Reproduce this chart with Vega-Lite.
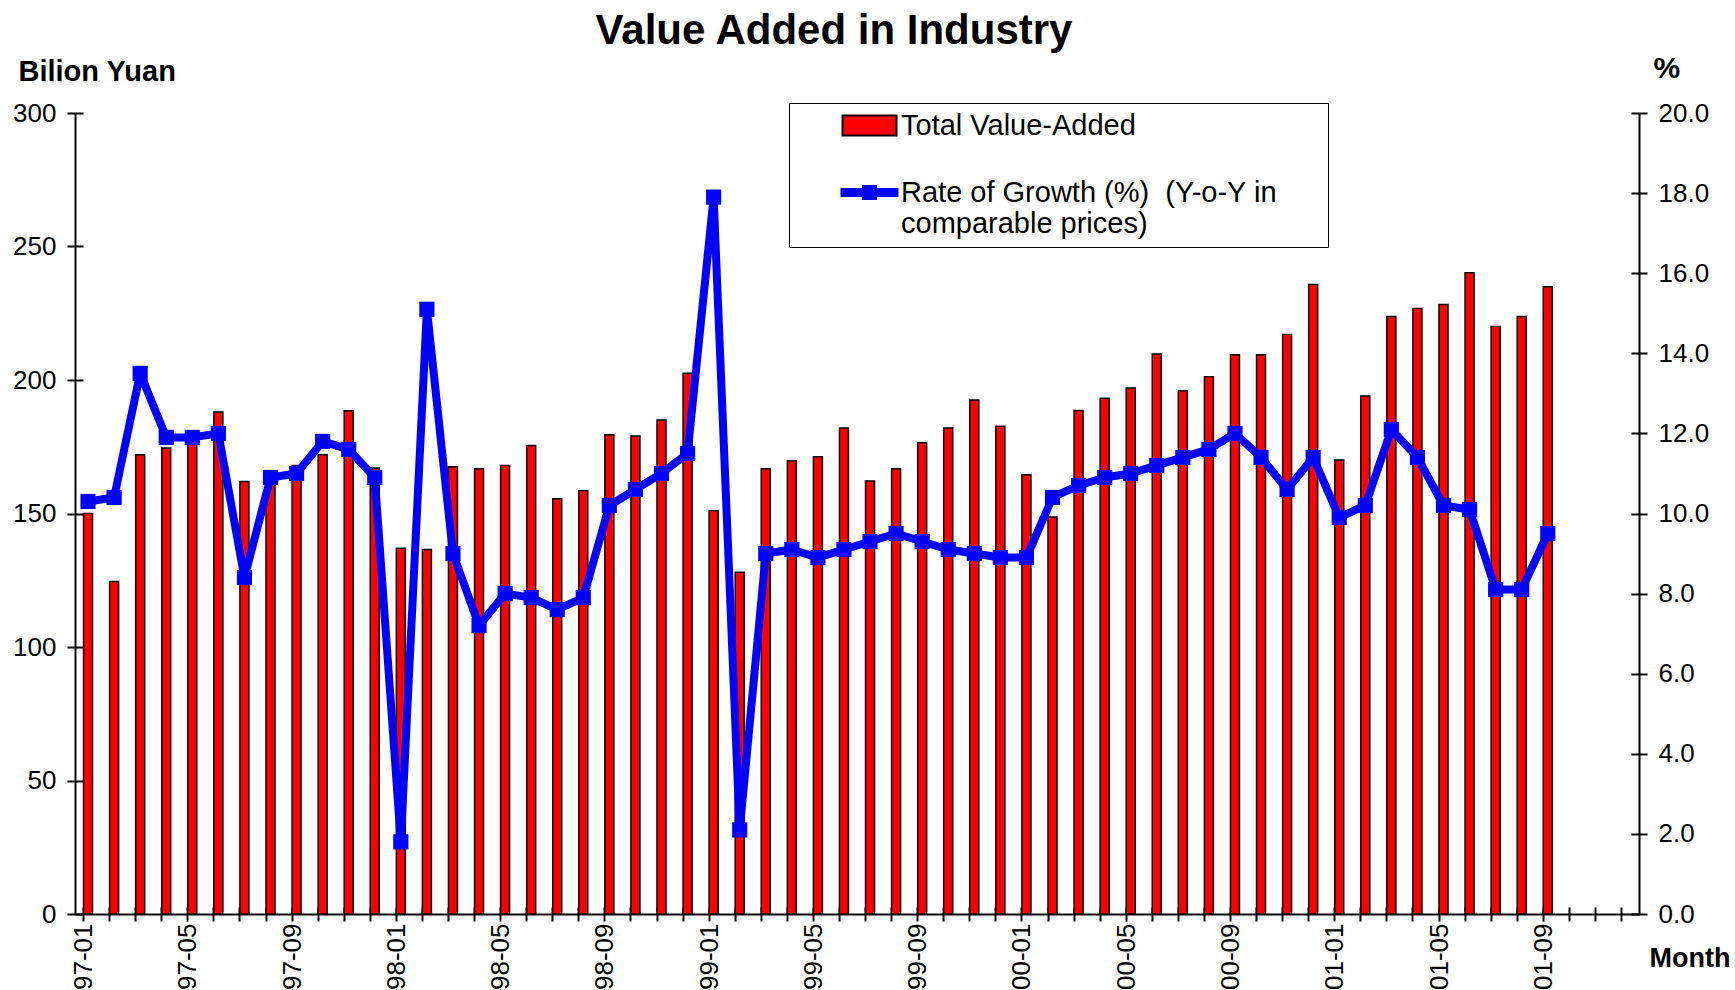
{
  "$schema": "https://vega.github.io/schema/vega-lite/v6.json",
  "width": 1564,
  "height": 801,
  "autosize": {"type": "none"},
  "padding": {"left": 75, "top": 113, "right": 96, "bottom": 76},
  "background": "white",
  "title": {"text": "Value Added in Industry", "font": "Liberation Sans", "fontSize": 42, "fontWeight": "bold", "color": "black", "anchor": "middle", "dx": -23, "offset": 0},
  "config": {
    "view": {"stroke": null},
    "font": "Liberation Sans",
    "axis": {"domainColor": "black", "tickColor": "black", "labelColor": "black", "titleColor": "black", "domainWidth": 2, "tickWidth": 2, "grid": false, "labelFont": "Liberation Sans", "titleFont": "Liberation Sans"}
  },
  "data": {"values": [
    {"m": "97-01", "v": 150, "g": 10.3},
    {"m": "97-02", "v": 124.5, "g": 10.4},
    {"m": "97-03", "v": 172, "g": 13.5},
    {"m": "97-04", "v": 174.5, "g": 11.9},
    {"m": "97-05", "v": 178, "g": 11.9},
    {"m": "97-06", "v": 188, "g": 12.0},
    {"m": "97-07", "v": 162, "g": 8.4},
    {"m": "97-08", "v": 163, "g": 10.9},
    {"m": "97-09", "v": 168, "g": 11.0},
    {"m": "97-10", "v": 172, "g": 11.8},
    {"m": "97-11", "v": 188.5, "g": 11.6},
    {"m": "97-12", "v": 167, "g": 10.9},
    {"m": "98-01", "v": 137, "g": 1.8},
    {"m": "98-02", "v": 136.5, "g": 15.1},
    {"m": "98-03", "v": 167.5, "g": 9.0},
    {"m": "98-04", "v": 166.8, "g": 7.2},
    {"m": "98-05", "v": 168, "g": 8.0},
    {"m": "98-06", "v": 175.5, "g": 7.9},
    {"m": "98-07", "v": 155.5, "g": 7.6},
    {"m": "98-08", "v": 158.5, "g": 7.9},
    {"m": "98-09", "v": 179.5, "g": 10.2},
    {"m": "98-10", "v": 179, "g": 10.6},
    {"m": "98-11", "v": 185, "g": 11.0},
    {"m": "98-12", "v": 202.5, "g": 11.5},
    {"m": "99-01", "v": 151, "g": 17.9},
    {"m": "99-02", "v": 128, "g": 2.1},
    {"m": "99-03", "v": 166.8, "g": 9.0},
    {"m": "99-04", "v": 169.8, "g": 9.1},
    {"m": "99-05", "v": 171.3, "g": 8.9},
    {"m": "99-06", "v": 182, "g": 9.1},
    {"m": "99-07", "v": 162.2, "g": 9.3},
    {"m": "99-08", "v": 166.8, "g": 9.5},
    {"m": "99-09", "v": 176.5, "g": 9.3},
    {"m": "99-10", "v": 182, "g": 9.1},
    {"m": "99-11", "v": 192.5, "g": 9.0},
    {"m": "99-12", "v": 182.7, "g": 8.9},
    {"m": "00-01", "v": 164.5, "g": 8.9},
    {"m": "00-02", "v": 148.7, "g": 10.4},
    {"m": "00-03", "v": 188.6, "g": 10.7},
    {"m": "00-04", "v": 193.2, "g": 10.9},
    {"m": "00-05", "v": 197, "g": 11.0},
    {"m": "00-06", "v": 209.7, "g": 11.2},
    {"m": "00-07", "v": 196, "g": 11.4},
    {"m": "00-08", "v": 201.2, "g": 11.6},
    {"m": "00-09", "v": 209.5, "g": 12.0},
    {"m": "00-10", "v": 209.5, "g": 11.4},
    {"m": "00-11", "v": 217, "g": 10.6},
    {"m": "00-12", "v": 235.8, "g": 11.4},
    {"m": "01-01", "v": 170, "g": 9.9},
    {"m": "01-02", "v": 194, "g": 10.2},
    {"m": "01-03", "v": 223.8, "g": 12.1},
    {"m": "01-04", "v": 226.8, "g": 11.4},
    {"m": "01-05", "v": 228.3, "g": 10.2},
    {"m": "01-06", "v": 240.2, "g": 10.1},
    {"m": "01-07", "v": 220, "g": 8.1},
    {"m": "01-08", "v": 223.8, "g": 8.1},
    {"m": "01-09", "v": 234.9, "g": 9.5}
  ]},
  "layer": [
    {
      "mark": {"type": "bar", "color": "#FF0000", "stroke": "black", "strokeWidth": 1.5},
      "encoding": {
        "x": {
          "field": "m", "type": "nominal", "sort": null,
          "scale": {
            "domain": ["97-01","97-02","97-03","97-04","97-05","97-06","97-07","97-08","97-09","97-10","97-11","97-12",
                       "98-01","98-02","98-03","98-04","98-05","98-06","98-07","98-08","98-09","98-10","98-11","98-12",
                       "99-01","99-02","99-03","99-04","99-05","99-06","99-07","99-08","99-09","99-10","99-11","99-12",
                       "00-01","00-02","00-03","00-04","00-05","00-06","00-07","00-08","00-09","00-10","00-11","00-12",
                       "01-01","01-02","01-03","01-04","01-05","01-06","01-07","01-08","01-09","01-10","01-11","01-12"],
            "paddingInner": 0.655, "paddingOuter": 0.3275
          },
          "axis": {
            "orient": "bottom", "bandPosition": 0, "tickSize": 7, "labelAngle": -90, "labelFontSize": 26,
            "labelPadding": 2, "labelOverlap": false, "labelOffset": -4,
            "labelExpr": "indexof(['01','05','09'], substring(datum.value, 3, 5)) >= 0 ? datum.value : ''",
            "title": "Month", "titleAngle": 0, "titleAlign": "left", "titleBaseline": "alphabetic",
            "titleX": 1574, "titleY": 52, "titleFontSize": 27, "titleFontWeight": "bold"
          }
        },
        "y": {
          "field": "v", "type": "quantitative",
          "scale": {"domain": [0, 300], "nice": false},
          "axis": {
            "orient": "left", "values": [0, 50, 100, 150, 200, 250, 300], "tickSize": 8, "labelFontSize": 26, "labelPadding": 11,
            "title": "Bilion Yuan", "titleAngle": 0, "titleAlign": "left", "titleBaseline": "alphabetic",
            "titleX": -57, "titleY": -33, "titleFontSize": 29, "titleFontWeight": "bold"
          }
        }
      }
    },
    {
      "mark": {"type": "line", "color": "#0000FF", "strokeWidth": 8, "strokeJoin": "round", "point": {"shape": "square", "size": 230, "filled": true, "opacity": 1, "color": "#0000FF"}},
      "encoding": {
        "x": {"field": "m", "type": "nominal", "sort": null, "axis": null},
        "y": {
          "field": "g", "type": "quantitative",
          "scale": {"domain": [0, 20], "nice": false},
          "axis": {
            "orient": "right", "values": [0, 2, 4, 6, 8, 10, 12, 14, 16, 18, 20], "format": ".1f", "tickSize": 8, "labelFontSize": 26, "labelPadding": 11,
            "title": "%", "titleAngle": 0, "titleAlign": "left", "titleBaseline": "alphabetic",
            "titleX": 14, "titleY": -36, "titleFontSize": 30, "titleFontWeight": "bold"
          }
        }
      }
    },
    {
      "mark": {"type": "point", "opacity": 0, "filled": true},
      "encoding": {
        "x": {"field": "m", "type": "nominal", "sort": null,
          "axis": {"orient": "bottom", "bandPosition": 0, "tickSize": -7, "labels": false, "domain": false, "title": null}},
        "y": {"field": "v", "type": "quantitative", "scale": {"domain": [0, 300], "nice": false},
          "axis": {"orient": "left", "values": [0, 50, 100, 150, 200, 250, 300], "tickSize": -8, "labels": false, "domain": false, "title": null}},
        "fill": {
          "datum": "Total Value-Added",
          "scale": {"domain": ["Total Value-Added", "Rate of Growth (%)  (Y-o-Y in comparable prices)"], "range": ["#FF0000", "#0000FF"]},
          "legend": {
            "orient": "none", "legendX": 714, "legendY": -10, "title": null, "direction": "vertical",
            "padding": 8, "strokeColor": "black", "fillColor": "white", "cornerRadius": 0,
            "labelFont": "Liberation Sans", "labelFontSize": 29, "labelColor": "black", "labelLimit": 0,
            "symbolOffset": 58, "labelOffset": 17, "rowPadding": 37, "symbolSize": 576,
            "symbolOpacity": 1, "symbolStrokeWidth": 2,
            "labelExpr": "datum.value == 'Total Value-Added' ? datum.value : ['Rate of Growth (%)\u00a0 (Y-o-Y in\u2800\u2800', 'comparable prices)']",
            "encode": {
              "legend": {"strokeWidth": {"value": 2}},
              "labels": {"lineHeight": {"value": 29}, "dy": {"value": 4}}
            }
          }
        },
        "shape": {
          "datum": "Total Value-Added",
          "scale": {"domain": ["Total Value-Added", "Rate of Growth (%)  (Y-o-Y in comparable prices)"],
                    "range": ["M-2.25,-0.833H2.25V0.833H-2.25Z", "M-2.333,-0.29H-0.54V-0.54H0.54V-0.29H2.333V0.29H0.54V0.54H-0.54V0.29H-2.333Z"]},
          "legend": {"title": null}
        },
        "stroke": {
          "datum": "Total Value-Added",
          "scale": {"domain": ["Total Value-Added", "Rate of Growth (%)  (Y-o-Y in comparable prices)"], "range": ["black", "#0000FF"]},
          "legend": {"title": null}
        }
      }
    },
    {
      "mark": {"type": "point", "opacity": 0, "filled": true},
      "encoding": {
        "x": {"field": "m", "type": "nominal", "sort": null, "axis": null},
        "y": {"field": "g", "type": "quantitative", "scale": {"domain": [0, 20], "nice": false},
          "axis": {"orient": "right", "values": [0, 2, 4, 6, 8, 10, 12, 14, 16, 18, 20], "tickSize": -8, "labels": false, "domain": false, "title": null}},
        "fill": {"datum": "Rate of Growth (%)  (Y-o-Y in comparable prices)"},
        "shape": {"datum": "Rate of Growth (%)  (Y-o-Y in comparable prices)"},
        "stroke": {"datum": "Rate of Growth (%)  (Y-o-Y in comparable prices)"}
      }
    }
  ],
  "resolve": {"scale": {"y": "independent"}, "axis": {"x": "independent", "y": "independent"}}
}
